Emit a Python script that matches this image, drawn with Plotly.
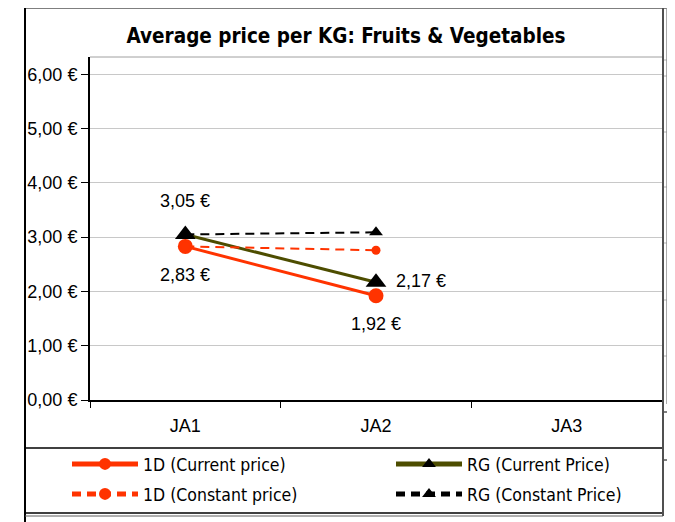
import plotly.graph_objects as go

# ---------------- data ----------------
categories = ["JA1", "JA2", "JA3"]
series_names = ["1D (Current price)", "RG (Current Price)", "1D (Constant price)", "RG (Constant Price)"]
d1_current = [2.83, 1.92]
rg_current = [3.05, 2.17]
d1_constant = [2.83, 2.76]
rg_constant = [3.05, 3.09]

# the page body has an 8px default margin: design in screen pixels, shift by OFF
OFF = 8
W, H = 675 - OFF, 522 - OFF
PLOT_L, PLOT_R, PLOT_T, PLOT_B = 90, 662, 57, 400   # screen pixels of plot area
L, R = PLOT_L - OFF, W - (PLOT_R - OFF)
T, B = PLOT_T - OFF, H - (PLOT_B - OFF)
PW, PH = W - L - R, H - T - B

def px_x(x):
    return (x - OFF - L) / PW

def px_y(y):
    return (H - B - (y - OFF)) / PH

RED = "#FF3300"
OLIVE = "#4D4D00"
NARROW = "Liberation Sans Narrow, DejaVu Sans Condensed, Arial Narrow, sans-serif"
SANS = "Liberation Sans, Arial, sans-serif"
DASH = "9px,6px"

fig = go.Figure()
x2 = categories[:2]
fig.add_trace(go.Scatter(x=x2, y=d1_current, name=series_names[0], mode="lines+markers",
                         line=dict(color=RED, width=3), legend="legend",
                         marker=dict(symbol="circle", size=15, color=RED)))
fig.add_trace(go.Scatter(x=x2, y=rg_current, name=series_names[1], mode="lines+markers",
                         line=dict(color=OLIVE, width=3), legend="legend",
                         marker=dict(symbol="triangle-up", size=18, color="black")))
fig.add_trace(go.Scatter(x=x2, y=d1_constant, name=series_names[2], mode="lines+markers",
                         line=dict(color=RED, width=2, dash=DASH), legend="legend2",
                         marker=dict(symbol="circle", size=9, color=RED)))
fig.add_trace(go.Scatter(x=x2, y=rg_constant, name=series_names[3], mode="lines+markers",
                         line=dict(color="black", width=2, dash=DASH), legend="legend2",
                         marker=dict(symbol="triangle-up", size=12, color="black")))

def lbl(v):
    return f"{v:.2f} €".replace(".", ",")

ann_font = dict(family=SANS, size=18, color="black")
annotations = [
    dict(x=x2[0], y=rg_current[0], text=lbl(rg_current[0]), showarrow=False, yshift=33, xshift=0, font=ann_font),
    dict(x=x2[0], y=d1_current[0], text=lbl(d1_current[0]), showarrow=False, yshift=-29, xshift=0, font=ann_font),
    dict(x=x2[1], y=rg_current[1], text=lbl(rg_current[1]), showarrow=False, yshift=1, xshift=45, font=ann_font),
    dict(x=x2[1], y=d1_current[1], text=lbl(d1_current[1]), showarrow=False, yshift=-28, xshift=0, font=ann_font),
]

shapes = []
def hline(y, x0, x1, color="black", width=1):
    shapes.append(dict(type="line", xref="paper", yref="paper", x0=px_x(x0), x1=px_x(x1),
                       y0=px_y(y), y1=px_y(y), line=dict(color=color, width=width)))
def vline(x, y0, y1, color="black", width=1):
    shapes.append(dict(type="line", xref="paper", yref="paper", x0=px_x(x), x1=px_x(x),
                       y0=px_y(y0), y1=px_y(y1), line=dict(color=color, width=width)))

# frame of the (cropped) spreadsheet chart
hline(7, 24, 676, "black", 3)
vline(25, 6, 523, "black", 2)
hline(57, 90, 663, "#A0A0A0", 1)        # top edge of plot area
hline(448, 25, 663, "black", 1.5)
hline(513, 25, 663, "black", 1.5)
hline(516, 25, 663, "#606060", 1)
# chart behind on the right
for yy in [60, 76, 132, 187, 243, 300, 356]:
    hline(yy, 663, 676, "#B0B0B0", 1)
for yy in [412, 460]:
    hline(yy, 663, 676, "black", 1)
vline(667, 8, 404, "#909090", 1.5)
vline(663, 7, 516, "#505050", 2)

leg_common = dict(orientation="h", xanchor="left", yanchor="middle",
                  entrywidth=243, entrywidthmode="pixels", itemwidth=66,
                  itemsizing="constant",
                  font=dict(family=NARROW, size=17.5, color="black"),
                  bgcolor="rgba(0,0,0,0)", traceorder="normal")

fig.update_layout(
    width=W, height=H,
    margin=dict(l=L, r=R, t=T, b=B, autoexpand=False),
    paper_bgcolor="white", plot_bgcolor="white",
    separators=", ",
    title=dict(text="<b>Average price per KG: Fruits & Vegetables</b>",
               font=dict(family=NARROW, size=20.5, color="black"),
               x=(346 - OFF) / W, xanchor="center", xref="container",
               y=1 - (36 - OFF) / H, yanchor="middle", yref="container"),
    xaxis=dict(type="category", categoryorder="array", categoryarray=categories,
               range=[-0.5, 2.5], showline=True, linecolor="black", linewidth=2,
               ticks="outside", tickson="boundaries", ticklen=6, tickcolor="black",
               showgrid=False, tickfont=dict(family=SANS, size=18, color="black"),
               ticklabelstandoff=8),
    yaxis=dict(range=[0, 6.32], dtick=1, tick0=0, tickformat=".2f", ticksuffix=" €",
               showline=True, linecolor="black", linewidth=2, ticks="outside", ticklen=7,
               tickcolor="black", showgrid=True, gridcolor="#C8C8C8", gridwidth=1,
               zeroline=False, tickfont=dict(family=SANS, size=18, color="black")),
    showlegend=True,
    legend=dict(x=px_x(67), y=px_y(464), **leg_common),
    legend2=dict(x=px_x(67), y=px_y(494), **leg_common),
    annotations=annotations,
    shapes=shapes,
)

fig.write_html("out.html")
